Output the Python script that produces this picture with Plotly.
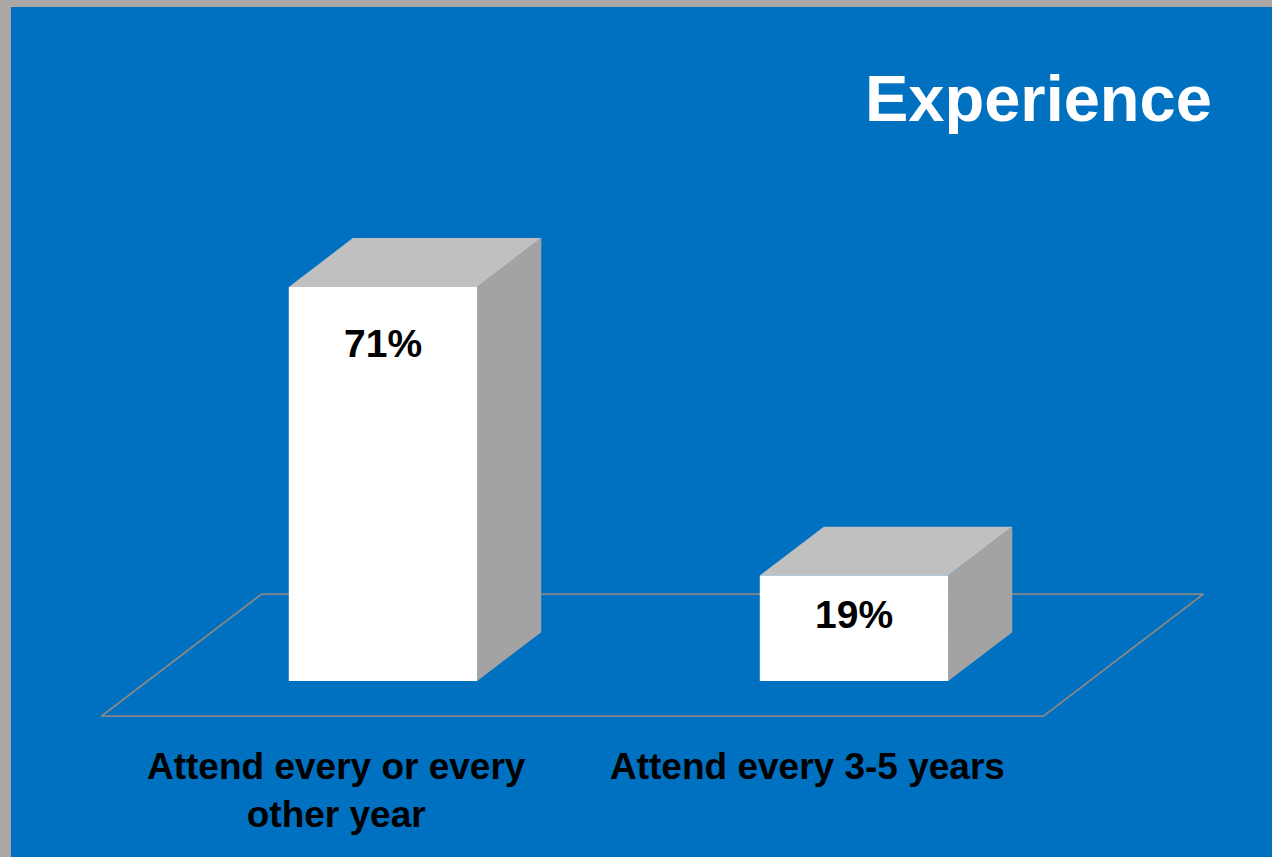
import plotly.graph_objects as go

# Survey results
categories = ["Attend every or every<br>other year", "Attend every 3-5 years"]
values = [71, 19]
value_labels = ["71%", "19%"]
title_text = "Experience"

# Styling / 3-D geometry (data units of the axes)
BLUE = "#0070c0"
FRAME = "#aaa7a4"
FRONT = "#ffffff"
TOP = "#c0c0c0"
SIDE = "#a3a3a3"
FLOOR_LINE = "#878787"
BAR_W = 0.4            # width of the bar front face, in category units
DEPTH_DX = 0.136       # oblique depth vector, x component
DEPTH_DY = 8.8         # oblique depth vector, y component
FLOOR_FRONT = -0.72    # floor front plane, in multiples of bar depth
FLOOR_BACK = 1.78      # floor back plane, in multiples of bar depth
LABEL_SHIFT = [-57, -39]  # vertical pixel offset of the value label below each bar top

W, H = 1272, 857
ML, MT = 11, 7
PX_PER_UNIT_X = 471.0
PX_PER_PCT = 5.55
X0_PX = 383.0   # pixel of category 0 centre
Y0_PX = 681.0   # pixel of the value baseline

x_range = [(ML - X0_PX) / PX_PER_UNIT_X, (W - X0_PX) / PX_PER_UNIT_X]
y_range = [-(H - Y0_PX) / PX_PER_PCT, (Y0_PX - MT) / PX_PER_PCT]

fig = go.Figure()


def poly(xs, ys, color):
    fig.add_trace(go.Scatter(
        x=xs + [xs[0]], y=ys + [ys[0]], mode="lines", fill="toself",
        fillcolor=color, line=dict(width=0, color=color),
        hoverinfo="skip", showlegend=False))


# Floor outline
n = len(categories)
fx0, fx1 = -0.5, n - 0.5
ff_dx, ff_dy = FLOOR_FRONT * DEPTH_DX, FLOOR_FRONT * DEPTH_DY
fb_dx, fb_dy = FLOOR_BACK * DEPTH_DX, FLOOR_BACK * DEPTH_DY
floor_x = [fx0 + ff_dx, fx1 + ff_dx, fx1 + fb_dx, fx0 + fb_dx, fx0 + ff_dx]
floor_y = [ff_dy, ff_dy, fb_dy, fb_dy, ff_dy]
fig.add_trace(go.Scatter(x=floor_x, y=floor_y, mode="lines",
                         line=dict(color=FLOOR_LINE, width=1.8),
                         hoverinfo="skip", showlegend=False))

# 3-D bars
for i, v in enumerate(values):
    xl, xr = i - BAR_W / 2, i + BAR_W / 2
    # side face
    poly([xr, xr + DEPTH_DX, xr + DEPTH_DX, xr],
         [0, DEPTH_DY, v + DEPTH_DY, v], SIDE)
    # top face
    poly([xl, xr, xr + DEPTH_DX, xl + DEPTH_DX],
         [v, v, v + DEPTH_DY, v + DEPTH_DY], TOP)
    # front face
    poly([xl, xr, xr, xl], [0, 0, v, v], FRONT)

annotations = []
# Value labels on the bar fronts
for i, (v, t) in enumerate(zip(values, value_labels)):
    annotations.append(dict(
        x=i, y=v, xref="x", yref="y", text=t, showarrow=False,
        xanchor="center", yanchor="middle", yshift=LABEL_SHIFT[i],
        font=dict(family="Liberation Sans", size=39, color="black", weight="bold")))

# Category labels under the floor
for i, c in enumerate(categories):
    annotations.append(dict(
        x=i + ff_dx, y=ff_dy, xref="x", yref="y", text=c, showarrow=False,
        xanchor="center", yanchor="top", yshift=-28, align="center",
        font=dict(family="Liberation Sans", size=37, color="black", weight="bold")))

# Title
annotations.append(dict(
    x=(1214 - ML) / (W - ML), y=1 - (98 - MT) / (H - MT),
    xref="paper", yref="paper", text=title_text, showarrow=False,
    xanchor="right", yanchor="middle",
    font=dict(family="Liberation Sans", size=65, color="white", weight="bold")))

fig.update_layout(
    width=W, height=H,
    margin=dict(l=ML, t=MT, r=0, b=0, pad=0),
    paper_bgcolor=FRAME, plot_bgcolor=BLUE,
    xaxis=dict(range=x_range, visible=False, fixedrange=True),
    yaxis=dict(range=y_range, visible=False, fixedrange=True),
    annotations=annotations,
    showlegend=False,
)

fig.write_html("out.html", config={"displayModeBar": False})
